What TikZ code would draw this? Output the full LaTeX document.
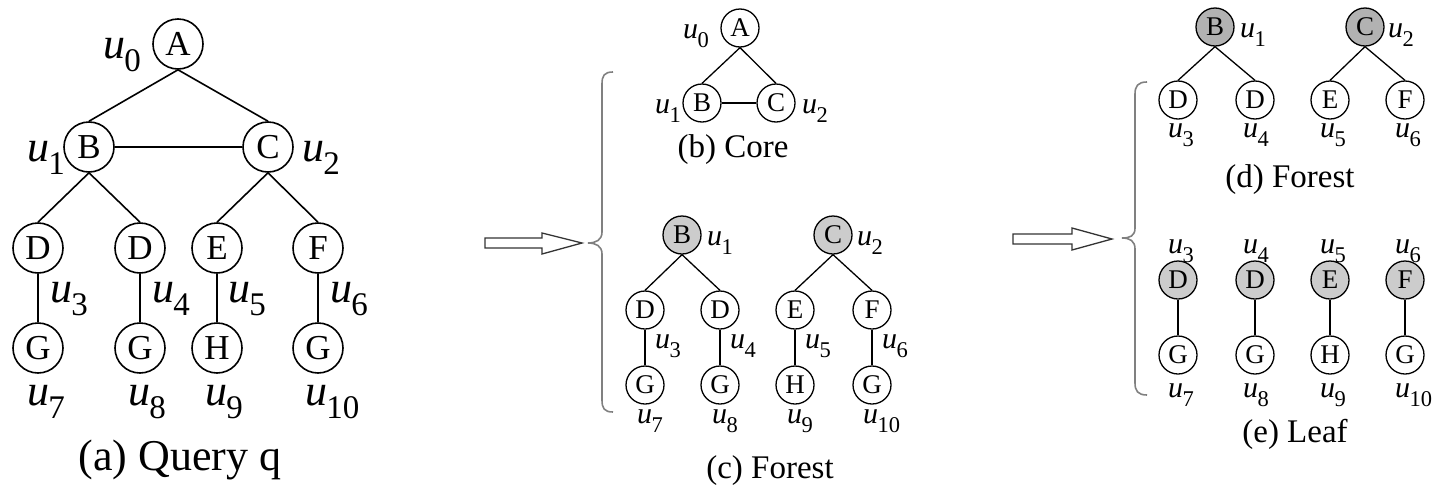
\documentclass[tikz,border=0pt]{standalone}
\usepackage{fontspec}
\setmainfont{Liberation Serif}
\usepackage{graphicx}
\newcommand\uu[1]{\textit{u}\kern-0.02em\raisebox{-0.3em}{\scalebox{0.75}{#1}}}
\tikzset{
  big/.style={circle, draw, line width=1.6pt, minimum size=50pt, inner sep=0pt, font=\fontsize{35}{35}\selectfont},
  sm/.style={circle, draw, line width=1.3pt, minimum size=38pt, inner sep=0pt, font=\fontsize{27}{27}\selectfont},
  shd/.style={fill=gray!40},
  shdd/.style={fill=gray!60},
  lblA/.style={anchor=base west, inner sep=0pt, font=\fontsize{44}{44}\selectfont},
  lblB/.style={anchor=base west, inner sep=0pt, font=\fontsize{30}{30}\selectfont},
  capA/.style={anchor=base, inner sep=0pt, font=\fontsize{44}{44}\selectfont},
  capB/.style={anchor=base, inner sep=0pt, font=\fontsize{33}{33}\selectfont},
  edgeA/.style={line width=1.6pt},
  edgeB/.style={line width=1.3pt},
  bracepath/.style={draw=gray, line width=1.6pt},
  hollow/.style={draw=black!80, line width=1.3pt, fill=white, line join=miter}
}
\begin{document}
\begin{tikzpicture}[x=1pt, y=-1pt]
\useasboundingbox (0,0) rectangle (1439,485);
% ---------- (a) Query q ----------
\node[big] (aA) at (178,44) {A};
\node[big] (aB) at (89,147) {B};
\node[big] (aC) at (268,147) {C};
\node[big] (aD1) at (38,248) {D};
\node[big] (aD2) at (140,248) {D};
\node[big] (aE) at (217,248) {E};
\node[big] (aF) at (318,248) {F};
\node[big] (aG1) at (38,348) {G};
\node[big] (aG2) at (140,348) {G};
\node[big] (aH) at (217,348) {H};
\node[big] (aG3) at (318,348) {G};
\draw[edgeA] (aA.south) -- (aB.north);
\draw[edgeA] (aA.south) -- (aC.north);
\draw[edgeA] (aB.east) -- (aC.west);
\draw[edgeA] (aB.south) -- (aD1.north);
\draw[edgeA] (aB.south) -- (aD2.north);
\draw[edgeA] (aC.south) -- (aE.north);
\draw[edgeA] (aC.south) -- (aF.north);
\draw[edgeA] (aD1.south) -- (aG1.north);
\draw[edgeA] (aD2.south) -- (aG2.north);
\draw[edgeA] (aE.south) -- (aH.north);
\draw[edgeA] (aF.south) -- (aG3.north);
\node[lblA] (la0) at (103,58) {\uu{0}};
\node[lblA] (la1) at (27,161) {\uu{1}};
\node[lblA] (la2) at (302,161) {\uu{2}};
\node[lblA] (la3) at (50,302) {\uu{3}};
\node[lblA] (la4) at (152,302) {\uu{4}};
\node[lblA] (la5) at (228,302) {\uu{5}};
\node[lblA] (la6) at (330,302) {\uu{6}};
\node[lblA] (la7) at (27,405) {\uu{7}};
\node[lblA] (la8) at (128,405) {\uu{8}};
\node[lblA] (la9) at (205,405) {\uu{9}};
\node[lblA] (la10) at (305,405) {\uu{10}};
\node[capA] (capa) at (180,470) {(a) Query q};
% ---------- arrow 1 and brace 1 ----------
\draw[hollow] (485,238) -- (542,238) -- (542,233) -- (582,243) -- (542,254) -- (542,248) -- (485,248) -- cycle;
\draw[bracepath] (613,72) .. controls (604,72) and (602,76) .. (602,84) -- (602,232)
  .. controls (602,240) and (596,243) .. (588,243)
  .. controls (596,243) and (602,246) .. (602,254) -- (602,400)
  .. controls (602,408) and (604,412) .. (613,412);
% ---------- (b) Core ----------
\node[sm] (bA) at (740,28) {A};
\node[sm] (bB) at (702,103) {B};
\node[sm] (bC) at (776,103) {C};
\draw[edgeB] (bA.south) -- (bB.north);
\draw[edgeB] (bA.south) -- (bC.north);
\draw[edgeB] (bB.east) -- (bC.west);
\node[lblB] (lb0) at (683,38) {\uu{0}};
\node[lblB] (lb1) at (655,113) {\uu{1}};
\node[lblB] (lb2) at (802,113) {\uu{2}};
\node[capB] (capb) at (733,157) {(b) Core};
% ---------- (c) Forest ----------
\node[sm, shd] (cB) at (682,235) {B};
\node[sm, shd] (cC) at (833,235) {C};
\node[sm] (cD1) at (645,310) {D};
\node[sm] (cD2) at (720,310) {D};
\node[sm] (cE) at (795,310) {E};
\node[sm] (cF) at (872,310) {F};
\node[sm] (cG1) at (645,385) {G};
\node[sm] (cG2) at (720,385) {G};
\node[sm] (cH) at (795,385) {H};
\node[sm] (cG3) at (872,385) {G};
\draw[edgeB] (cB.south) -- (cD1.north);
\draw[edgeB] (cB.south) -- (cD2.north);
\draw[edgeB] (cC.south) -- (cE.north);
\draw[edgeB] (cC.south) -- (cF.north);
\draw[edgeB] (cD1.south) -- (cG1.north);
\draw[edgeB] (cD2.south) -- (cG2.north);
\draw[edgeB] (cE.south) -- (cH.north);
\draw[edgeB] (cF.south) -- (cG3.north);
\node[lblB] (lc1) at (707,245) {\uu{1}};
\node[lblB] (lc2) at (857,245) {\uu{2}};
\node[lblB] (lc3) at (655,348) {\uu{3}};
\node[lblB] (lc4) at (730,348) {\uu{4}};
\node[lblB] (lc5) at (805,348) {\uu{5}};
\node[lblB] (lc6) at (882,348) {\uu{6}};
\node[lblB] (lc7) at (637,423) {\uu{7}};
\node[lblB] (lc8) at (712,423) {\uu{8}};
\node[lblB] (lc9) at (787,423) {\uu{9}};
\node[lblB] (lc10) at (863,423) {\uu{10}};
\node[capB] (capc) at (770,478) {(c) Forest};
% ---------- arrow 2 and brace 2 ----------
\draw[hollow] (1013,234) -- (1072,234) -- (1072,228) -- (1112,239) -- (1072,250) -- (1072,244) -- (1013,244) -- cycle;
\draw[bracepath] (1147,82) .. controls (1138,82) and (1135,86) .. (1135,94) -- (1135,228)
  .. controls (1135,236) and (1130,238) .. (1122,238)
  .. controls (1130,238) and (1135,241) .. (1135,249) -- (1135,383)
  .. controls (1135,391) and (1138,395) .. (1147,395);
% ---------- (d) Forest ----------
\node[sm, shdd] (dB) at (1215,27) {B};
\node[sm, shdd] (dC) at (1365,27) {C};
\node[sm] (dD1) at (1178,100) {D};
\node[sm] (dD2) at (1255,100) {D};
\node[sm] (dE) at (1330,100) {E};
\node[sm] (dF) at (1405,100) {F};
\draw[edgeB] (dB.south) -- (dD1.north);
\draw[edgeB] (dB.south) -- (dD2.north);
\draw[edgeB] (dC.south) -- (dE.north);
\draw[edgeB] (dC.south) -- (dF.north);
\node[lblB] (ld1) at (1240,37) {\uu{1}};
\node[lblB] (ld2) at (1388,37) {\uu{2}};
\node[lblB] (ld3) at (1168,137) {\uu{3}};
\node[lblB] (ld4) at (1243,137) {\uu{4}};
\node[lblB] (ld5) at (1320,137) {\uu{5}};
\node[lblB] (ld6) at (1395,137) {\uu{6}};
\node[capB] (capd) at (1290,187) {(d) Forest};
% ---------- (e) Leaf ----------
\node[sm, shd] (eD1) at (1178,280) {D};
\node[sm, shd] (eD2) at (1255,280) {D};
\node[sm, shd] (eE) at (1330,280) {E};
\node[sm, shd] (eF) at (1405,280) {F};
\node[sm] (eG1) at (1178,355) {G};
\node[sm] (eG2) at (1255,355) {G};
\node[sm] (eH) at (1330,355) {H};
\node[sm] (eG3) at (1405,355) {G};
\draw[edgeB] (eD1.south) -- (eG1.north);
\draw[edgeB] (eD2.south) -- (eG2.north);
\draw[edgeB] (eE.south) -- (eH.north);
\draw[edgeB] (eF.south) -- (eG3.north);
\node[lblB] (le3) at (1168,253) {\uu{3}};
\node[lblB] (le4) at (1243,253) {\uu{4}};
\node[lblB] (le5) at (1320,253) {\uu{5}};
\node[lblB] (le6) at (1395,253) {\uu{6}};
\node[lblB] (le7) at (1168,397) {\uu{7}};
\node[lblB] (le8) at (1243,397) {\uu{8}};
\node[lblB] (le9) at (1320,397) {\uu{9}};
\node[lblB] (le10) at (1395,397) {\uu{10}};
\node[capB] (cape) at (1295,442) {(e) Leaf};
\end{tikzpicture}
\end{document}
